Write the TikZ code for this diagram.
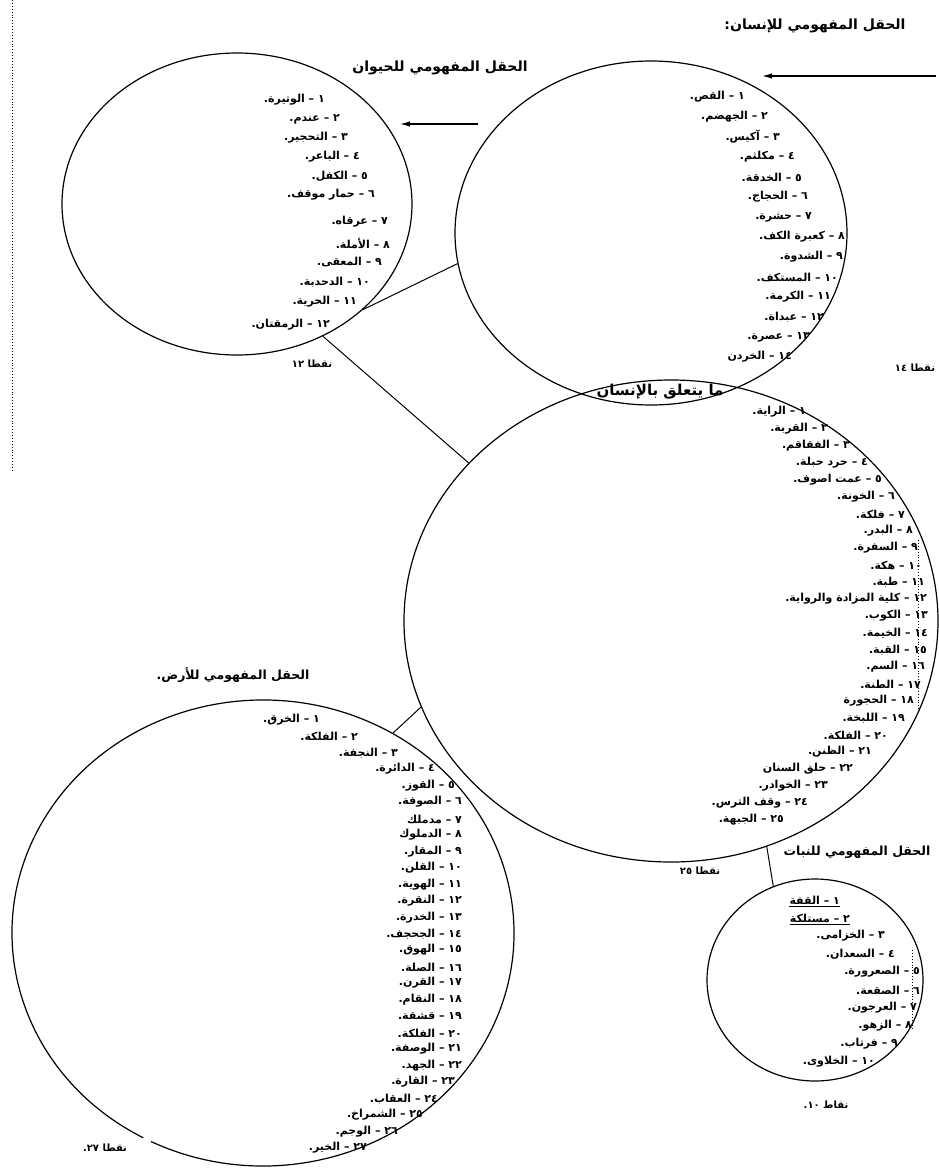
\documentclass[tikz,border=0pt]{standalone}
\usepackage{fontspec}
\usetikzlibrary{shapes.geometric,arrows.meta}
\newfontfamily\arabicfont[Script=Arabic]{DejaVu Sans}
\TeXXeTstate=1
\begin{document}
\begin{tikzpicture}[x=1pt,y=-1pt,
  circ/.style={draw, ellipse, line width=1.2pt, inner sep=0pt},
  ghost/.style={ellipse, inner sep=0pt},
  item/.style={anchor=east, inner sep=0pt, font=\arabicfont\bfseries\fontsize{11}{12}\selectfont},
  ttl/.style={inner sep=0pt, font=\arabicfont\bfseries\fontsize{14}{16}\selectfont},
  bttl/.style={inner sep=0pt, font=\arabicfont\bfseries\fontsize{15}{17}\selectfont},
  sttl/.style={inner sep=0pt, font=\arabicfont\bfseries\fontsize{12.5}{14}\selectfont},
  cnt/.style={inner sep=0pt, font=\arabicfont\bfseries\fontsize{10}{12}\selectfont},
  link/.style={line width=1pt},
  arr/.style={line width=1.2pt, -{Latex[length=10pt,width=5.5pt]}},
  dots/.style={dotted, line width=0.9pt}]
\useasboundingbox (0,0) rectangle (939,1168);

% circles
\node[circ, minimum width=350pt, minimum height=302pt] (animal) at (237,204) {};
\node[circ, minimum width=392pt, minimum height=344pt] (human) at (651,233) {};
\node[circ, minimum width=534pt, minimum height=482pt] (rel) at (671,621) {};
\node[ghost, minimum width=502pt, minimum height=466pt] (earth) at (263,933) {};
\draw[line width=1.2pt] (earth.center) ++(118.5:251 and 233) arc[start angle=118.5, end angle=476.5, x radius=251, y radius=233];
\node[circ, minimum width=216pt, minimum height=202pt] (plant) at (815,980) {};

% connectors
\draw[link] (animal.-40.8) -- (human.-171.5);
\draw[link] (animal.-57.7) -- (rel.142.6);
\draw[link] (earth.57.7) -- (rel.-161.5);
\draw[link] (rel.-67.3) -- (plant.114.7);

% arrows
\coordinate (a1s) at (936,76);
\coordinate (a1e) at (762,76);
\draw[arr] (a1s) -- (a1e);
\coordinate (a2s) at (478,124);
\coordinate (a2e) at (400,124);
\draw[arr] (a2s) -- (a2e);

% dotted lines
\coordinate (d1s) at (12,0);
\coordinate (d1e) at (12,470);
\draw[dots] (d1s) -- (d1e);
\coordinate (d2s) at (918,540);
\coordinate (d2e) at (918,712);
\draw[dots] (d2s) -- (d2e);
\coordinate (d3s) at (912,950);
\coordinate (d3e) at (912,1030);
\draw[dots] (d3s) -- (d3e);

% titles
\node[ttl] (t0) at (815,26) {\beginR الحقل المفهومي للإنسان:\endR};
\node[ttl] (t1) at (440,68) {\beginR الحقل المفهومي للحيوان\endR};
\node[bttl] (t2) at (660,392) {\beginR ما يتعلق بالإنسان\endR};
\node[sttl] (t3) at (233,675) {\beginR الحقل المفهومي للأرض.\endR};
\node[sttl] (t4) at (857,852) {\beginR الحقل المفهومي للنبات\endR};

% counts
\node[cnt] (c1) at (312,364) {\beginR نقطا ١٢\endR};
\node[cnt] (c2) at (915,368) {\beginR نقطا ١٤\endR};
\node[cnt] (c3) at (700,871) {\beginR نقطا ٢٥\endR};
\node[cnt] (c4) at (105,1148) {\beginR نقطا ٢٧.\endR};
\node[cnt] (c5) at (826,1105) {\beginR نقاط ١٠.\endR};

% animal list
\foreach \y/\r/\t [count=\i] in {
 100/325/{١ – الوتيرة.},
 119/340/{٢ – عندم.},
 138/348/{٣ – التحجير.},
 157/360/{٤ – الباعر.},
 176/368/{٥ – الكفل.},
 195/375/{٦ – حمار موقف.},
 222/388/{٧ – عرقاه.},
 243/390/{٨ – الأملة.},
 262/382/{٩ – المعقى.},
 282/370/{١٠ – الدحدبة.},
 302/357/{١١ – الحرية.},
 325/330/{١٢ – الرمقتان.}}
 \node[item] (an\i) at (\r,\y) {\beginR\t\endR};

% human list
\foreach \y/\r/\t [count=\i] in {
 97/745/{١ – القص.},
 117/768/{٢ – الجهضم.},
 137/780/{٣ – آكيس.},
 157/795/{٤ – مكلثم.},
 177/802/{٥ – الخدقة.},
 197/808/{٦ – الحجاج.},
 217/812/{٧ – حشرة.},
 237/845/{٨ – كعبرة الكف.},
 257/843/{٩ – الشدوة.},
 277/838/{١٠ – المستكف.},
 297/831/{١١ – الكرمة.},
 317/824/{١٢ – عبداة.},
 337/810/{١٣ – عصرة.},
 357/792/{١٤ – الخردن}}
 \node[item] (hu\i) at (\r,\y) {\beginR\t\endR};

% related list
\foreach \y/\r/\t [count=\i] in {
 412/806/{١ – الراية.},
 429/828/{٢ – القربة.},
 446/850/{٣ – الفقاقم.},
 463/868/{٤ – حرد حبلة.},
 480/882/{٥ – عمت اصوف.},
 497/895/{٦ – الخونة.},
 514/905/{٧ – فلكة.},
 531/913/{٨ – البدر.},
 548/918/{٩ – السفرة.},
 565/922/{١٠ – هكة.},
 582/925/{١١ – طبة.},
 599/927/{١٢ – كلية المزادة والرواية.},
 616/928/{١٣ – الكوب.},
 633/928/{١٤ – الخيمة.},
 650/927/{١٥ – القبة.},
 667/925/{١٦ – السم.},
 684/921/{١٧ – الطنة.},
 701/914/{١٨ – الحجورة},
 718/905/{١٩ – اللبخة.},
 735/888/{٢٠ – الفلكة.},
 752/872/{٢١ – الظنن.},
 769/853/{٢٢ – حلق السنان},
 786/828/{٢٣ – الخوادر.},
 803/808/{٢٤ – وقف الترس.},
 820/784/{٢٥ – الجبهة.}}
 \node[item] (re\i) at (\r,\y) {\beginR\t\endR};

% earth list
\foreach \y/\r/\t [count=\i] in {
 720/320/{١ – الخرق.},
 736/358/{٢ – الفلكة.},
 753/398/{٣ – النجفة.},
 769/435/{٤ – الدائرة.},
 786/455/{٥ – القوز.},
 802/462/{٦ – الصوفة.},
 819/462/{٧ – مدملك},
 835/462/{٨ – الدملوك},
 852/462/{٩ – المقار.},
 868/462/{١٠ – القلن.},
 885/462/{١١ – الهوية.},
 901/462/{١٢ – النقرة.},
 918/462/{١٣ – الخدرة.},
 934/462/{١٤ – الجحجف.},
 950/462/{١٥ – الهوق.},
 967/462/{١٦ – الصلة.},
 983/462/{١٧ – القرن.},
 1000/462/{١٨ – النقام.},
 1016/462/{١٩ – قشقة.},
 1033/462/{٢٠ – الفلكة.},
 1049/462/{٢١ – الوصفة.},
 1066/462/{٢٢ – الجهد.},
 1082/455/{٢٣ – القارة.},
 1099/438/{٢٤ – العقاب.},
 1115/423/{٢٥ – الشمراخ.},
 1132/398/{٢٦ – الوجم.},
 1148/367/{٢٧ – الخير.}}
 \node[item] (ea\i) at (\r,\y) {\beginR\t\endR};

% plant list
\foreach \y/\r/\t [count=\i] in {
 900/840/{١ – القفة},
 918/850/{٢ – مستلكة},
 936/885/{٣ – الخزامى.},
 954/895/{٤ – السعدان.},
 972/920/{٥ – الصعرورة.},
 990/920/{٦ – الصقعة.},
 1008/917/{٧ – العرجون.},
 1026/912/{٨ – الزهو.},
 1044/898/{٩ – فرتاب.},
 1062/875/{١٠ – الخلاوى.}}
 \node[item] (pl\i) at (\r,\y) {\beginR\t\endR};
\draw[line width=0.6pt] ([yshift=-1.5pt]pl1.south west) -- ([yshift=-1.5pt]pl1.south east);
\draw[line width=0.6pt] ([yshift=-1.5pt]pl2.south west) -- ([yshift=-1.5pt]pl2.south east);
\end{tikzpicture}
\end{document}
